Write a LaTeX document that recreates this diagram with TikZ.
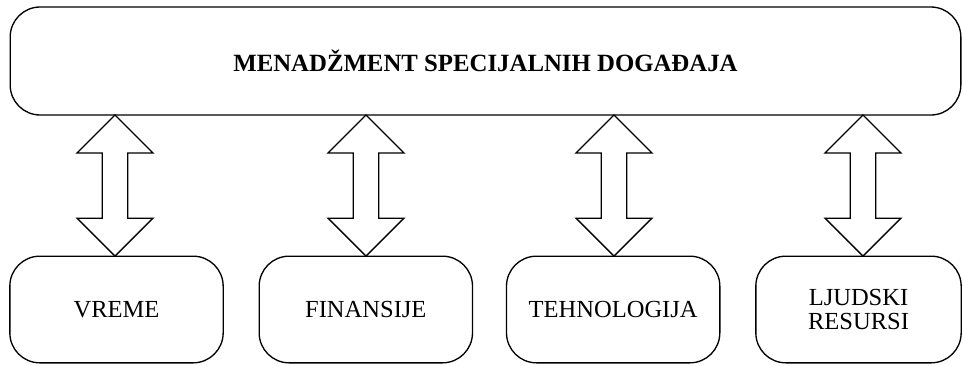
\documentclass[tikz,border=0pt]{standalone}
\usepackage{fontspec}
\setmainfont{Liberation Serif}
\usetikzlibrary{calc}
\usetikzlibrary{positioning}
\tikzset{
  topbox/.style={draw=black, line width=1pt, rounded corners=22.5pt, minimum width=713pt, minimum height=81pt, inner sep=0pt, outer sep=0pt, font=\bfseries\fontsize{18.6}{20}\selectfont},
  areabox/.style={draw=black, line width=1pt, rounded corners=22.5pt, minimum width=160pt, minimum height=80pt, inner sep=0pt, outer sep=0pt, align=center, font=\fontsize{18.4}{17.6}\selectfont},
  twoway/.style={draw=black, fill=white, line width=1pt}
}

\begin{document}
\begin{tikzpicture}[x=0.75pt, y=-0.75pt]
\useasboundingbox (0,0) rectangle (963,365);
\node[topbox] (top) at (485.5,61) {MENADŽMENT SPECIJALNIH DOGAĐAJA};
\node[areabox] (vre) at (116.5,309.5) {VREME};
\node[areabox, right=27pt of vre] (fin) {FINANSIJE};
\node[areabox, right=25.5pt of fin] (teh) {TEHNOLOGIJA};
\node[areabox, right=27pt of teh, minimum width=154pt] (ljud) {LJUDSKI\\RESURSI};
\foreach \x/\n in {115/vre,366/fin,614/teh,863/ljud}{
  \coordinate (up) at (top.south -| \x,0);
  \coordinate (dn) at (\n.north -| \x,0);
  \draw[twoway] (up) -- ($(up)+(38,38)$) -- ($(up)+(12.7,38)$) -- ($(dn)+(12.7,-38)$) -- ($(dn)+(38,-38)$) -- (dn)
    -- ($(dn)+(-38,-38)$) -- ($(dn)+(-12.7,-38)$) -- ($(up)+(-12.7,38)$) -- ($(up)+(-38,38)$) -- cycle;
}
\end{tikzpicture}
\end{document}
